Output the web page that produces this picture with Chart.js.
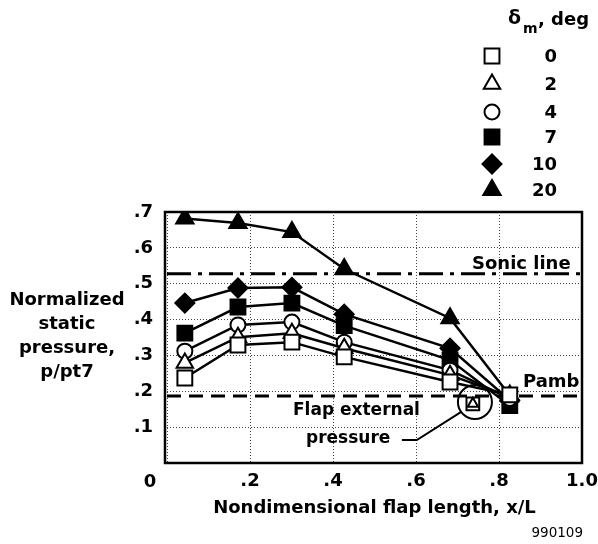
<!DOCTYPE html>
<html>
<head>
<meta charset="utf-8">
<title>Flap static pressure</title>
<script src="https://cdn.jsdelivr.net/npm/chart.js@4.4.1/dist/chart.umd.min.js"></script>
<style>
  html, body { margin: 0; padding: 0; background: #fff; }
  canvas { display: block; }
</style>
</head>
<body>
<canvas id="flapChart" width="598" height="544"></canvas>
<script>
// x/L of each pressure tap along the flap
var stations = [0.043, 0.171, 0.301, 0.427, 0.682, 0.826];

// p/pt7 at each tap, one array per flap deflection
var defl0  = [0.237, 0.329, 0.337, 0.296, 0.226, 0.190];
var defl2  = [0.279, 0.351, 0.362, 0.320, 0.245, 0.185];
var defl4  = [0.312, 0.385, 0.393, 0.337, 0.259, 0.180];
var defl7  = [0.362, 0.435, 0.446, 0.383, 0.287, 0.160];
var defl10 = [0.446, 0.488, 0.490, 0.415, 0.320, 0.175];
var defl20 = [0.682, 0.669, 0.644, 0.541, 0.404, 0.188];

var deflLabels = ['0', '2', '4', '7', '10', '20'];

// reference levels
var sonicLevel = 0.528;
var pambLevel = 0.187;

// flap external pressure measurements
var extX = [0.737, 0.737];
var extY = [0.165, 0.165];

var xTicks = [0, 0.2, 0.4, 0.6, 0.8, 1.0];
var yTicks = [0, 0.1, 0.2, 0.3, 0.4, 0.5, 0.6, 0.7];

var BLACK = '#000';
var WHITE = '#fff';

function bold(size) {
    return 'bold ' + size + 'px "DejaVu Sans"';
}

function toPoints(xs, ys) {
    return xs.map(function(x, i) { return { x: x, y: ys[i] }; });
}

function series(label, values, style, radius, filled) {
    return {
        label: label,
        data: toPoints(stations, values),
        borderColor: BLACK,
        borderWidth: 2.5,
        pointStyle: style,
        pointRadius: radius,
        pointHoverRadius: radius,
        pointBorderWidth: 2,
        pointBorderColor: BLACK,
        pointBackgroundColor: filled ? BLACK : WHITE,
        tension: 0,
        fill: false
    };
}

function level(value, dash) {
    return {
        label: '',
        data: toPoints([0, 1], [value, value]),
        borderColor: BLACK,
        borderWidth: 3,
        borderDash: dash,
        pointRadius: 0,
        fill: false
    };
}

var datasets = [
    series('0', defl0, 'rect', 10.5, false),
    series('2', defl2, 'triangle', 9.5, false),
    series('4', defl4, 'circle', 7.5, false),
    series('7', defl7, 'rect', 10.5, true),
    series('10', defl10, 'rectRot', 9.5, true),
    series('20', defl20, 'triangle', 10, true),
    level(sonicLevel, [24, 7, 4, 7]),
    level(pambLevel, [14, 8]),
    {
        label: '',
        data: toPoints(extX, extY),
        showLine: false,
        pointStyle: ['rect', 'triangle'],
        pointRadius: [9, 6],
        pointBorderWidth: 2,
        pointBorderColor: BLACK,
        pointBackgroundColor: WHITE
    }
];

// draws a marker the same way the datasets do
function marker(ctx, ds, x, y) {
    ctx.save();
    ctx.fillStyle = ds.pointBackgroundColor;
    ctx.strokeStyle = ds.pointBorderColor;
    ctx.lineWidth = ds.pointBorderWidth;
    Chart.helpers.drawPoint(ctx, {
        pointStyle: ds.pointStyle,
        radius: ds.pointRadius,
        rotation: 0,
        borderWidth: ds.pointBorderWidth
    }, x, y);
    ctx.restore();
}

var decorPlugin = {
    id: 'decor',
    afterDraw: function(chart) {
        var ctx = chart.ctx;
        var area = chart.chartArea;
        var xs = chart.scales.x;
        var ys = chart.scales.y;

        ctx.save();
        ctx.fillStyle = BLACK;
        ctx.strokeStyle = BLACK;

        // plot frame
        ctx.lineWidth = 2.5;
        ctx.strokeRect(area.left - 2, area.top, area.right - area.left + 2, area.bottom - area.top);

        // shared origin label
        ctx.font = bold(18);
        ctx.textAlign = 'center';
        ctx.textBaseline = 'alphabetic';
        ctx.fillText('0', xs.getPixelForValue(0) - 17, area.bottom + 24);

        // y-axis title
        var yTitle = ['Normalized', 'static', 'pressure,', 'p/pt7'];
        yTitle.forEach(function(line, i) {
            ctx.fillText(line, 67, 305 + i * 24);
        });

        // annotations
        ctx.textAlign = 'left';
        var sonicY = ys.getPixelForValue(sonicLevel);
        var pambY = ys.getPixelForValue(pambLevel);
        ctx.fillText('Sonic line', 472, sonicY - 5);
        ctx.fillText('Pamb', 523, pambY - 9);
        ctx.font = bold(17);
        ctx.fillText('Flap external', 293, 415);
        ctx.fillText('pressure', 306, 443);

        // circle round the external pressure points and its leader
        var cx = xs.getPixelForValue(0.742);
        var cy = ys.getPixelForValue(0.170);
        ctx.lineWidth = 2;
        ctx.beginPath();
        ctx.arc(cx, cy, 17, 0, Math.PI * 2);
        ctx.stroke();
        ctx.beginPath();
        ctx.moveTo(xs.getPixelForValue(0.566), ys.getPixelForValue(0.064));
        ctx.lineTo(xs.getPixelForValue(0.602), ys.getPixelForValue(0.064));
        ctx.lineTo(xs.getPixelForValue(0.708), ys.getPixelForValue(0.142));
        ctx.stroke();

        // legend
        ctx.font = bold(19);
        ctx.fillText('\u03b4', 508, 24);
        ctx.font = bold(14);
        ctx.fillText('m', 523, 33);
        ctx.font = bold(18);
        ctx.fillText(', deg', 538, 25);

        ctx.textAlign = 'right';
        ctx.textBaseline = 'middle';
        var rowY = [56, 84, 112, 137, 164, 190];
        for (var i = 0; i < 6; i++) {
            var ds = chart.data.datasets[i];
            marker(ctx, ds, 492, rowY[i]);
            ctx.fillStyle = BLACK;
            ctx.font = bold(18);
            ctx.fillText(deflLabels[i], 557, rowY[i] + 1);
        }

        // figure number
        ctx.font = '13.5px "DejaVu Sans"';
        ctx.textBaseline = 'alphabetic';
        ctx.fillText('990109', 583, 537);
        ctx.restore();
    }
};

Chart.defaults.color = BLACK;
Chart.defaults.font.family = '"DejaVu Sans"';

new Chart(document.getElementById('flapChart'), {
    type: 'line',
    data: { datasets: datasets },
    options: {
        responsive: false,
        animation: false,
        events: [],
        layout: { padding: { left: 0, top: 212, right: 16, bottom: 0 } },
        plugins: {
            legend: { display: false },
            title: { display: false },
            tooltip: { enabled: false }
        },
        scales: {
            x: {
                type: 'linear',
                min: 0,
                max: 1,
                afterBuildTicks: function(scale) {
                    scale.ticks = xTicks.map(function(v) { return { value: v }; });
                },
                afterFit: function(scale) {
                    scale.height = 81;
                    scale.paddingLeft = 0;
                    scale.paddingRight = 0;
                },
                ticks: {
                    padding: 8,
                    font: { size: 18, weight: 'bold' },
                    callback: function(v) {
                        if (v === 0) return '';
                        if (v === 1) return '1.0';
                        return '.' + Math.round(v * 10);
                    }
                },
                grid: { color: '#444', lineWidth: 1, drawTicks: false },
                border: { display: false, dash: [1, 2] },
                title: {
                    display: true,
                    text: 'Nondimensional flap length, x/L',
                    font: { size: 18, weight: 'bold' },
                    padding: { top: 4, bottom: 25 }
                }
            },
            y: {
                type: 'linear',
                min: 0,
                max: 0.7,
                afterBuildTicks: function(scale) {
                    scale.ticks = yTicks.map(function(v) { return { value: v }; });
                },
                afterFit: function(scale) {
                    scale.width = 167;
                    scale.paddingTop = 0;
                    scale.paddingBottom = 0;
                },
                ticks: {
                    padding: 14,
                    font: { size: 18, weight: 'bold' },
                    callback: function(v) {
                        if (v === 0) return '';
                        return '.' + Math.round(v * 10);
                    }
                },
                grid: { color: '#444', lineWidth: 1, drawTicks: false },
                border: { display: false, dash: [1, 2] }
            }
        }
    },
    plugins: [decorPlugin]
});
</script>
</body>
</html>
